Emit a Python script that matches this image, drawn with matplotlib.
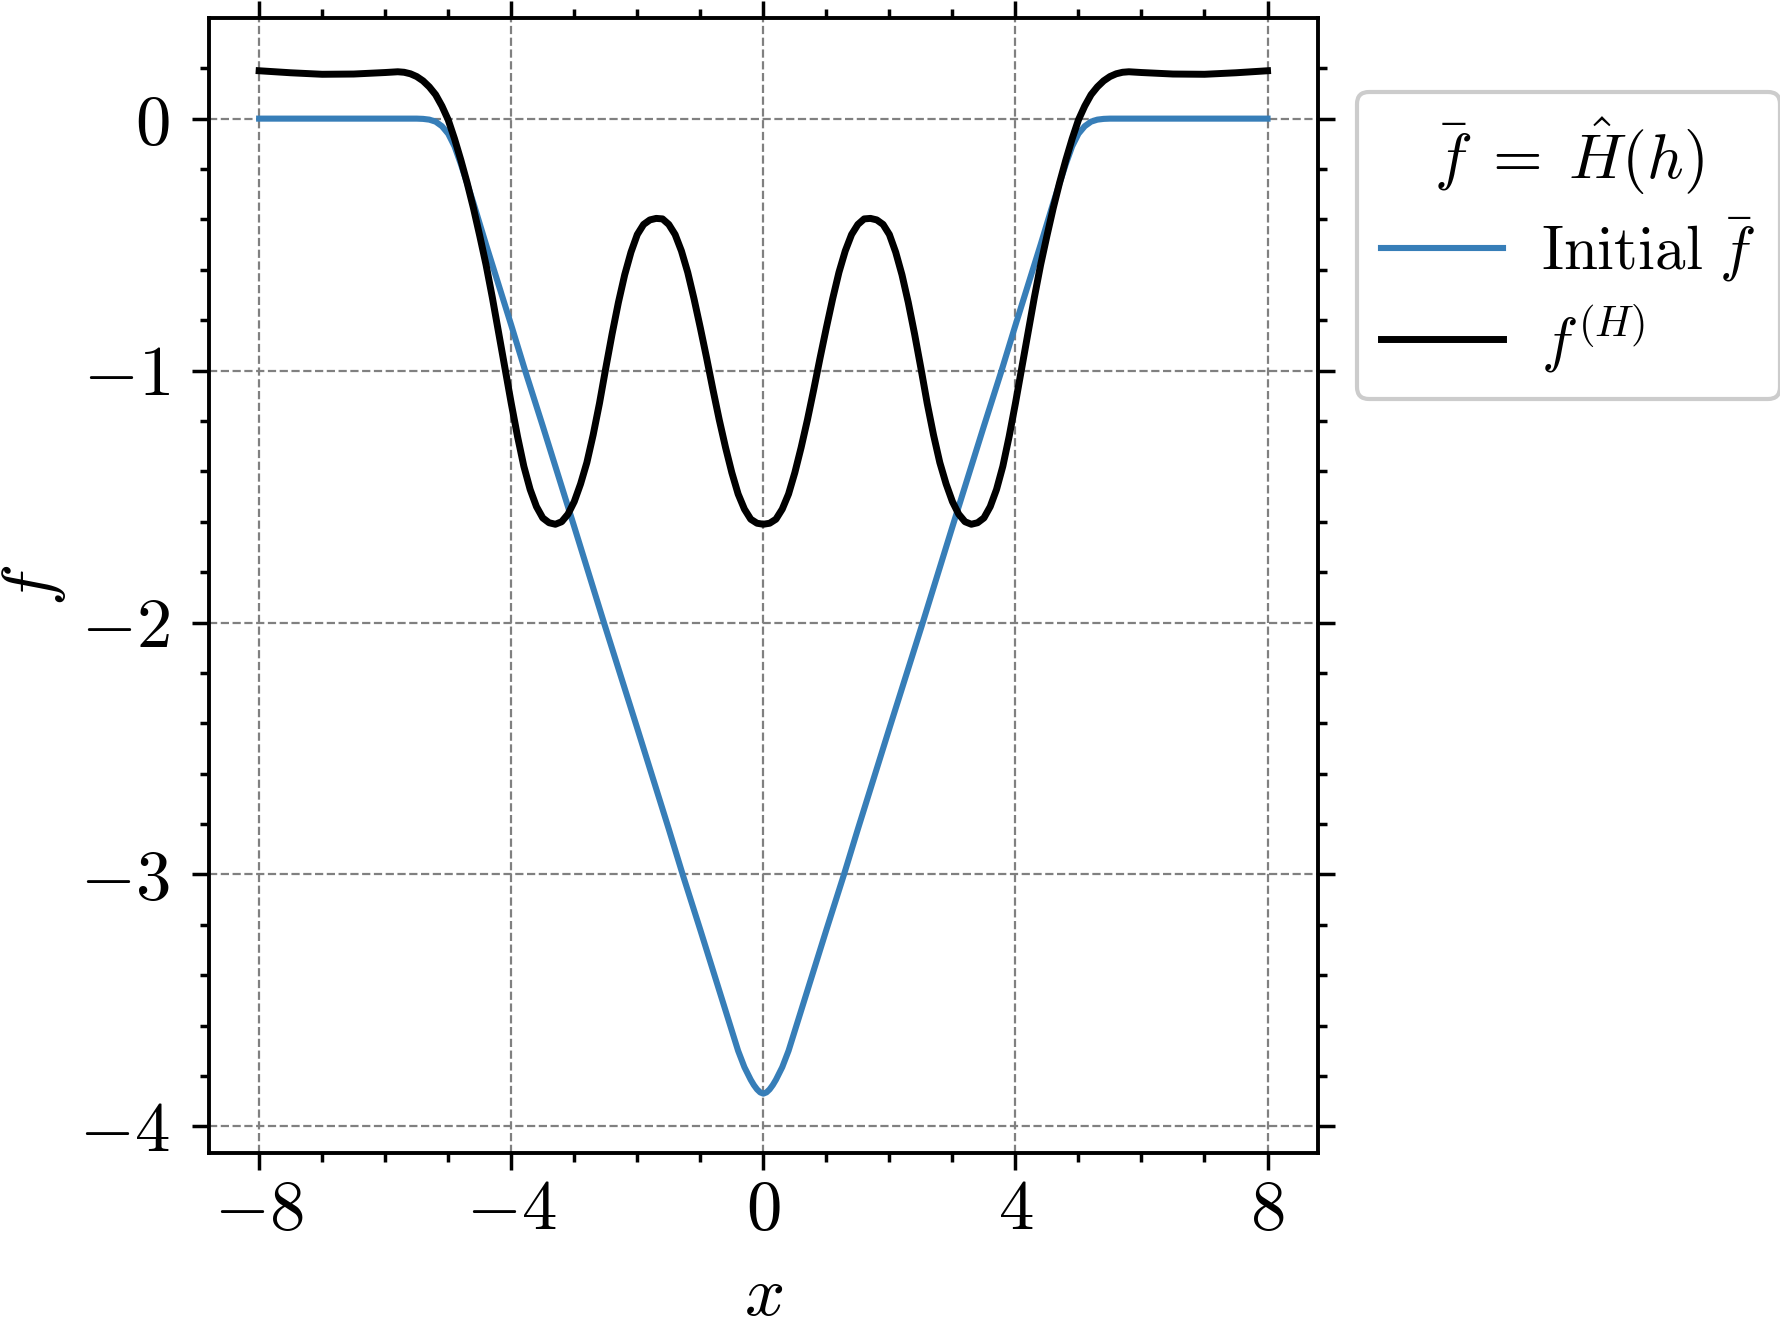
import matplotlib
matplotlib.use("Agg")
import matplotlib.pyplot as plt
from matplotlib.ticker import MultipleLocator

plt.rcParams["mathtext.fontset"] = "cm"
plt.rcParams["font.family"] = "serif"
plt.rcParams["font.serif"] = ["cmr10", "DejaVu Serif"]
plt.rcParams["axes.formatter.use_mathtext"] = True

# initial guess
x_init = [-8.0, -7.0, -6.0, -5.5, -5.4, -5.3, -5.2, -5.1, -5.0, -4.9, -4.8, -4.7, -4.6, -4.4,
          -4.2, -4.0, -3.78, -3.5, -3.0, -2.53, -2.0, -1.5, -1.28, -1.0, -0.7, -0.5,
          -0.4, -0.3, -0.2, -0.15, -0.1, -0.05, 0.0,
          0.05, 0.1, 0.15, 0.2, 0.3, 0.4, 0.5, 0.7, 1.0, 1.28, 1.5, 2.0, 2.53, 3.0, 3.5, 3.78,
          4.0, 4.2, 4.4, 4.6, 4.7, 4.8, 4.9, 5.0, 5.1, 5.2, 5.3, 5.4, 5.5, 6.0, 7.0, 8.0]
f_init = [0.0, 0.0, 0.0, 0.0, -0.001, -0.004, -0.012, -0.03, -0.06, -0.11, -0.18, -0.257, -0.335, -0.50,
          -0.66, -0.82, -1.0, -1.22, -1.62, -2.0, -2.42, -2.82, -3.0, -3.22, -3.46, -3.62,
          -3.70, -3.765, -3.815, -3.836, -3.853, -3.865, -3.87,
          -3.865, -3.853, -3.836, -3.815, -3.765, -3.70, -3.62, -3.46, -3.22, -3.0, -2.82, -2.42, -2.0, -1.62, -1.22, -1.0,
          -0.82, -0.66, -0.50, -0.335, -0.257, -0.18, -0.11, -0.06, -0.03, -0.012, -0.004, -0.001, 0.0, 0.0, 0.0, 0.0]

# f^(H)
x_h = [-8.0, -7.5, -7.0, -6.5, -6.0, -5.8, -5.7, -5.6, -5.5, -5.4, -5.3, -5.2, -5.1, -5.0,
       -4.9, -4.8, -4.7, -4.6, -4.5, -4.4, -4.3, -4.2, -4.1, -4.0, -3.9, -3.8, -3.7, -3.6,
       -3.5, -3.4, -3.3, -3.2, -3.1, -3.0, -2.9, -2.8, -2.7, -2.6, -2.5, -2.4, -2.3, -2.2,
       -2.1, -2.0, -1.9, -1.8, -1.7, -1.6, -1.5, -1.4, -1.3, -1.2, -1.1, -1.0, -0.9, -0.8,
       -0.7, -0.6, -0.5, -0.4, -0.3, -0.2, -0.1, 0.0,
       0.1, 0.2, 0.3, 0.4, 0.5, 0.6, 0.7, 0.8, 0.9, 1.0, 1.1, 1.2, 1.3, 1.4,
       1.5, 1.6, 1.7, 1.8, 1.9, 2.0, 2.1, 2.2, 2.3, 2.4, 2.5, 2.6, 2.7, 2.8,
       2.9, 3.0, 3.1, 3.2, 3.3, 3.4, 3.5, 3.6, 3.7, 3.8, 3.9, 4.0, 4.1, 4.2,
       4.3, 4.4, 4.5, 4.6, 4.7, 4.8, 4.9, 5.0, 5.1, 5.2, 5.3, 5.4, 5.5, 5.6,
       5.7, 5.8, 6.0, 6.5, 7.0, 7.5, 8.0]
f_h = [0.190, 0.182, 0.176, 0.177, 0.183, 0.186, 0.184, 0.178, 0.167, 0.150, 0.126, 0.095, 0.050, -0.005,
       -0.080, -0.164, -0.255, -0.355, -0.465, -0.580, -0.710, -0.850, -0.990, -1.130, -1.262, -1.380, -1.472, -1.540,
       -1.585, -1.604, -1.610, -1.600, -1.570, -1.520, -1.450, -1.365, -1.255, -1.130, -0.990, -0.855, -0.730, -0.620,
       -0.530, -0.460, -0.420, -0.402, -0.396, -0.398, -0.420, -0.460, -0.525, -0.610, -0.715, -0.830, -0.950, -1.075,
       -1.195, -1.305, -1.405, -1.490, -1.550, -1.590, -1.606, -1.610,
       -1.606, -1.590, -1.550, -1.490, -1.405, -1.305, -1.195, -1.075, -0.950, -0.830, -0.715, -0.610, -0.525, -0.460,
       -0.420, -0.398, -0.396, -0.402, -0.420, -0.460, -0.530, -0.620, -0.730, -0.855, -0.990, -1.130, -1.255, -1.365,
       -1.450, -1.520, -1.570, -1.600, -1.610, -1.604, -1.585, -1.540, -1.472, -1.380, -1.262, -1.130, -0.990, -0.850,
       -0.710, -0.580, -0.465, -0.355, -0.255, -0.164, -0.080, -0.005, 0.050, 0.095, 0.126, 0.150, 0.167, 0.178,
       0.184, 0.186, 0.183, 0.177, 0.176, 0.182, 0.190]

fig = plt.figure(figsize=(1781 / 200, 1330 / 200), dpi=200)
ax = fig.add_axes([0.1172, 0.1332, 0.6228, 0.853])

ax.plot(x_init, f_init, color="#377eb8", lw=2.2, label=r"$\mathrm{Initial}\ \bar{f}$")
ax.plot(x_h, f_h, color="black", lw=2.5, label=r"$f^{(H)}$")

ax.set_xlim(-8.8, 8.8)
ax.set_ylim(-4.105, 0.398)
ax.xaxis.set_major_locator(MultipleLocator(4))
ax.xaxis.set_minor_locator(MultipleLocator(1))
ax.yaxis.set_major_locator(MultipleLocator(1))
ax.yaxis.set_minor_locator(MultipleLocator(0.2))

ax.tick_params(which="both", direction="out", top=True, right=True, labelsize=25.5, width=1.25)
ax.tick_params(which="major", length=6)
ax.tick_params(which="minor", length=3.4)
ax.tick_params(axis="y", which="major", pad=8)
for sp in ax.spines.values():
    sp.set_linewidth(1.4)

ax.grid(True, which="major", ls="--", color="gray", lw=0.8)
ax.set_axisbelow(True)

ax.set_xlabel(r"$x$", fontsize=25.5, labelpad=8)
ax.set_ylabel(r"$f$", fontsize=25.5)

leg = ax.legend(title=r"$\bar{f}\;=\;\hat{H}(h)$", loc="upper left",
                bbox_to_anchor=(0.7617, 0.9311), bbox_transform=fig.transFigure,
                borderaxespad=0, fontsize=22, title_fontsize=23, handlelength=2.0,
                handletextpad=0.62, labelspacing=0.3, framealpha=1,
                edgecolor="#cccccc", fancybox=True)
leg.get_frame().set_linewidth(1.5)

fig.savefig("out.png", dpi=200)
